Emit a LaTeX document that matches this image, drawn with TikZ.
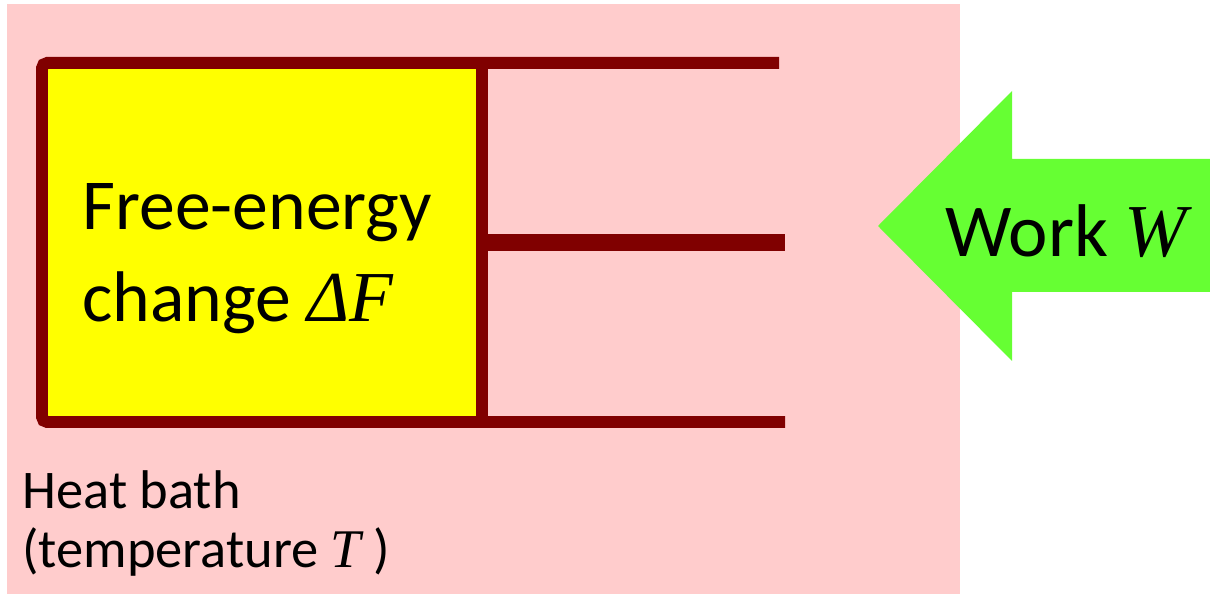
\documentclass[tikz,border=0pt]{standalone}
\usepackage{fontspec}
\setmainfont{Carlito}
\newfontfamily\symfont{Liberation Serif}
\newcommand{\sym}[1]{{\symfont\itshape #1}}
\usepackage{tikz}

\definecolor{bathpink}{HTML}{FFCCCC}
\definecolor{wallred}{HTML}{800000}
\definecolor{workgreen}{HTML}{66FF33}
\definecolor{gasyellow}{HTML}{FFFF00}
\tikzset{wall/.style={draw=wallred, line width=0.24cm},
	label/.style={inner sep=0, anchor=base west}}

\begin{document}
\begin{tikzpicture}[x=0.02cm, y=-0.02cm]
\useasboundingbox (0,0) rectangle (1210,594);
\fill[bathpink] (7,4) rectangle (960,594);
\fill[gasyellow] (42,63) rectangle (482,422);
% cylinder and piston
\draw[wall, rounded corners=3] (779,63) -- (42,63) -- (42,422) -- (785,422);
\draw[wall] (482,63) -- (482,422);
\draw[wall, line width=0.34cm] (482,242.5) -- (785,242.5);
% work arrow
\fill[workgreen] (878,226) -- (1012,91) -- (1012,159) -- (1210,159)
	-- (1210,292) -- (1012,292) -- (1012,361) -- cycle;
\node[label, font=\fontsize{40.8}{48}\selectfont] (energy) at (82,230) {Free-energy};
\node[label, font=\fontsize{40.8}{48}\selectfont] (change) at (82,322) {change \sym{ΔF}};
\node[label, font=\fontsize{42.5}{50}\selectfont] (work) at (945,257) {Work \sym{W}};
\node[label, font=\fontsize{31}{38}\selectfont] (bath) at (22,508) {Heat bath};
\node[label, font=\fontsize{31}{38}\selectfont] (temp) at (22,567) {(temperature \sym{T} )};
\end{tikzpicture}
\end{document}
